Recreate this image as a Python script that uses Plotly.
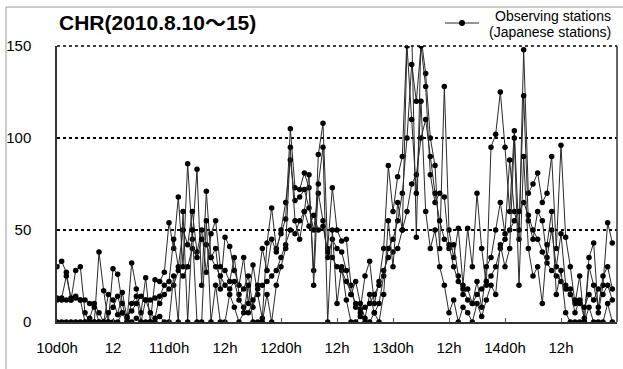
import plotly.graph_objects as go

# hourly values, 2010-08-10 00h .. 2010-08-14 23h
hours = list(range(120))

station_a = [30, 33, 27, 12, 28, 30, 5, 0, 0, 38, 17, 0,
             29, 26, 10, 0, 32, 18, 5, 24, 0, 23, 22, 27,
             54, 40, 68, 30, 86, 45, 83, 20, 71, 35, 40, 18,
             46, 41, 28, 20, 35, 10, 31, 15, 2, 43, 62, 40,
             48, 56, 105, 73, 72, 81, 73, 28, 91, 108, 40, 73,
             50, 44, 45, 20, 8, 7, 25, 33, 10, 22, 40, 85,
             60, 79, 90, 155, 160, 46, 155, 135, 100, 85, 40, 128,
             50, 35, 51, 20, 51, 30, 70, 40, 20, 95, 102, 125,
             95, 60, 104, 45, 148, 70, 75, 81, 65, 70, 90, 40,
             96, 46, 30, 10, 25, 0, 35, 43, 5, 20, 54, 43]

station_b = [13, 13, 25, 13, 14, 12, 0, 2, 10, 5, 0, 15,
             12, 4, 16, 2, 10, 14, 0, 12, 5, 2, 14, 20,
             22, 45, 30, 50, 42, 60, 38, 50, 27, 48, 55, 30,
             28, 22, 35, 15, 18, 25, 8, 20, 40, 28, 45, 38,
             50, 65, 88, 66, 68, 72, 62, 50, 70, 55, 35, 45,
             40, 38, 28, 15, 22, 10, 2, 15, 5, 10, 25, 40,
             45, 55, 70, 100, 140, 120, 150, 128, 80, 65, 70, 68,
             40, 42, 25, 15, 18, 10, 22, 8, 30, 35, 50, 65,
             48, 88, 60, 50, 123, 55, 45, 60, 55, 35, 50, 30,
             48, 20, 18, 5, 12, 2, 30, 20, 8, 25, 30, 18]

station_c = [12, 12, 12, 12, 13, 12, 12, 10, 8, 0, 0, 5,
             8, 14, 5, 3, 6, 10, 14, 12, 12, 13, 10, 15,
             18, 20, 28, 25, 30, 40, 35, 45, 42, 35, 30, 25,
             20, 18, 22, 12, 8, 5, 12, 18, 20, 22, 25, 28,
             35, 42, 50, 48, 55, 60, 52, 58, 50, 52, 38, 35,
             30, 28, 22, 15, 10, 5, 8, 10, 15, 20, 28, 35,
             38, 40, 50, 60, 75, 80, 100, 110, 90, 70, 55, 45,
             42, 30, 22, 18, 12, 10, 15, 18, 22, 25, 30, 40,
             45, 50, 55, 60, 65, 58, 50, 45, 38, 32, 28, 25,
             22, 18, 15, 12, 10, 8, 15, 12, 18, 15, 20, 12]

station_d = [0, 0, 0, 0, 0, 0, 0, 0, 0, 0, 0, 0,
             0, 0, 5, 0, 0, 2, 0, 0, 0, 0, 3, 0,
             0, 25, 0, 60, 0, 50, 0, 0, 55, 0, 20, 0,
             0, 15, 8, 0, 5, 20, 0, 0, 0, 15, 0, 20,
             30, 40, 95, 55, 45, 60, 80, 20, 75, 95, 0, 50,
             10, 30, 12, 0, 0, 3, 0, 0, 5, 0, 15, 55,
             30, 65, 50, 150, 110, 70, 120, 60, 40, 50, 30, 20,
             5, 12, 0, 8, 5, 0, 10, 3, 12, 20, 15, 42,
             30, 40, 100, 20, 90, 40, 25, 30, 10, 42, 60, 15,
             28, 5, 0, 0, 0, 0, 8, 0, 0, 0, 10, 0]

series = [station_a, station_b, station_c, station_d]

tick_hours = [0, 12, 24, 36, 48, 60, 72, 84, 96, 108]
tick_labels = ["10d0h", "12", "11d0h", "12h", "12d0h", "12h", "13d0h", "12h", "14d0h", "12h"]
y_ticks = [0, 50, 100, 150]

title_text = "CHR(2010.8.10～15)"
legend_lines = ["Observing stations", "(Japanese stations)"]

FONT = "Liberation Sans, Arial, Noto Sans CJK JP, sans-serif"

fig = go.Figure()
for s in series:
    fig.add_trace(go.Scatter(
        x=hours, y=s, mode="lines+markers",
        line=dict(color="#2a2a2a", width=1),
        marker=dict(color="black", size=5.5),
        showlegend=False, hoverinfo="skip"))

# pixel -> paper helpers (plot area 57..617 x 46..322)
L, R, T, B = 57, 617, 46, 322
def px(x):
    return (x - L) / (R - L)
def py(y):
    return (B - y) / (B - T)

fig.update_layout(
    width=623, height=369,
    margin=dict(l=L, r=623 - R, t=T, b=369 - B),
    paper_bgcolor="white", plot_bgcolor="white",
    font=dict(family=FONT, color="black", size=15),
    xaxis=dict(range=[0, 120], tickvals=tick_hours, ticktext=tick_labels,
               ticks="inside", ticklen=4, tickcolor="#555", showgrid=False,
               showline=True, linecolor="#333", linewidth=1.5, zeroline=False,
               ticklabelstandoff=11, tickfont=dict(size=15)),
    yaxis=dict(range=[0, 150], tickvals=y_ticks, ticks="", showgrid=True,
               gridcolor="black", griddash="dot", gridwidth=1.5,
               showline=True, linecolor="#333", linewidth=1.5, zeroline=False,
               ticklabelstandoff=21, tickfont=dict(size=15)),
)

shapes = [
    # right border of plot area
    dict(type="line", xref="paper", yref="paper", x0=1, x1=1, y0=0, y1=1,
         line=dict(color="#333", width=1.5)),
    # top dashed line (150)
    dict(type="line", xref="paper", yref="paper", x0=0, x1=1, y0=1, y1=1,
         line=dict(color="black", width=1.5, dash="dot")),
    # outer frame (left and top edges)
    dict(type="line", xref="paper", yref="paper", x0=px(6), x1=px(6),
         y0=py(369), y1=py(7), line=dict(color="#9a9a9a", width=1)),
    dict(type="line", xref="paper", yref="paper", x0=px(6), x1=px(623),
         y0=py(7), y1=py(7), line=dict(color="#9a9a9a", width=1)),
    # legend symbol
    dict(type="line", xref="paper", yref="paper", x0=px(445), x1=px(479),
         y0=py(23), y1=py(23), line=dict(color="#2a2a2a", width=1.2)),
    dict(type="circle", xref="paper", yref="paper", x0=px(459), x1=px(465),
         y0=py(26), y1=py(20), fillcolor="black", line=dict(color="black", width=0)),
]
fig.update_layout(shapes=shapes)

annotations = [
    dict(text="<b>" + title_text + "</b>", xref="paper", yref="paper",
         x=px(57), y=py(22), xanchor="left", yanchor="middle", showarrow=False,
         font=dict(size=21, family=FONT)),
    dict(text=legend_lines[0], xref="paper", yref="paper", x=px(613), y=py(16),
         xanchor="right", yanchor="middle", showarrow=False, font=dict(size=14)),
    dict(text=legend_lines[1], xref="paper", yref="paper", x=px(613), y=py(32),
         xanchor="right", yanchor="middle", showarrow=False, font=dict(size=14)),
]
fig.update_layout(annotations=annotations)

fig.write_html("out.html")
